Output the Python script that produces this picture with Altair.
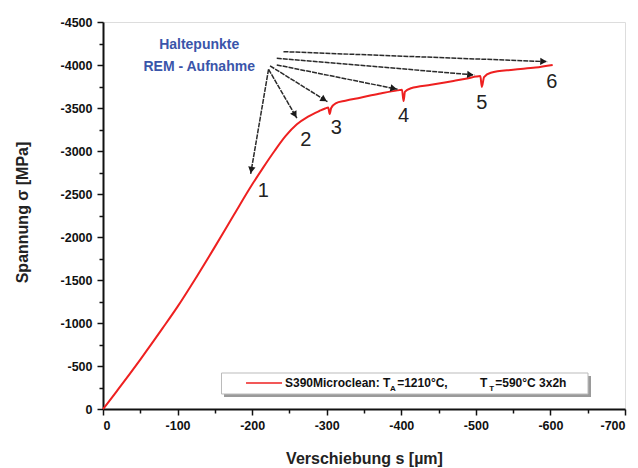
import math
import altair as alt
import pandas as pd

# ---- data ----
disp = [0, -5, -20, -50, -80, -100, -125, -150, -175, -200, -215, -230, -245, -260,
        -275, -290, -298, -302, -304, -306, -312, -325, -345, -370, -395, -401, -403,
        -405, -413, -440, -470, -490, -500, -506, -508, -511, -520, -550, -580, -603]
stress = [0, -55, -225, -575, -940, -1190, -1530, -1885, -2250, -2610, -2810, -3000,
          -3175, -3310, -3400, -3465, -3495, -3505, -3430, -3500, -3555, -3585, -3620,
          -3665, -3705, -3712, -3580, -3690, -3730, -3770, -3815, -3845, -3865, -3872,
          -3745, -3860, -3910, -3945, -3970, -4000]

labels_num = ["1", "2", "3", "4", "5", "6"]
label_s = [-215, -272, -313, -403, -508, -602]
label_sig = [-2530, -3130, -3265, -3405, -3560, -3805]

arrow_s0 = [-222, -222, -224, -233, -233, -242]
arrow_sig0 = [-3950, -3950, -3990, -4001, -4079, -4155]
arrow_s1 = [-198, -260, -301, -395, -498, -596]
arrow_sig1 = [-2733, -3381, -3574, -3718, -3884, -4039]

head_lines = ["Haltepunkte", "REM - Aufnahme"]
head_s = [-129, -129]
head_sig = [-4233, -3977]

legend_pieces = ["S390Microclean: T", "A", "=1210°C,", "T", "T", "=590°C 3x2h"]
legend_piece_s = [-244.0, -385.0, -394.5, -505.6, -518.0, -526.0]
legend_piece_sig = [-302, -229, -302, -302, -229, -302]
legend_piece_size = [12, 8, 12, 12, 8, 12]
legend_box = {"s0": -158.9, "s1": -650.4, "sig0": -418.6, "sig1": -174.4}
legend_shadow = {"s0": -162.3, "s1": -654.4, "sig0": -383.7, "sig1": -139.5}
legend_line = {"s0": -191.8, "s1": -240.1, "sig": -302.3}

W, H = 522, 387
X_DOM = [0, -700]
Y_DOM = [0, -4500]

xscale = alt.Scale(domain=X_DOM, nice=False, zero=False)
yscale = alt.Scale(domain=Y_DOM, nice=False, zero=False)

FONT = "Liberation Sans"

xaxis = alt.Axis(
    title="Verschiebung s [µm]",
    values=list(range(0, -701, -50)),
    labelExpr="datum.value % 100 === 0 ? '' + datum.value : ''",
    tickSize={"condition": {"test": "datum.value % 100 === 0", "value": 6}, "value": 4},
    labelOverlap=False, grid=False, domainColor="#111", domainWidth=2,
    tickColor="#111", tickWidth=1.5, labelFont=FONT, labelFontWeight="bold",
    labelFontSize=12.5, labelColor="#111", labelPadding=4,
    titleFont=FONT, titleFontWeight="bold", titleFontSize=16, titleColor="#222",
    titleY=49, titleBaseline="middle",
)
yaxis = alt.Axis(
    title="Spannung σ [MPa]",
    values=list(range(0, -4501, -250)),
    labelExpr="datum.value % 500 === 0 ? '' + datum.value : ''",
    tickSize={"condition": {"test": "datum.value % 500 === 0", "value": 6}, "value": 4},
    labelOverlap=False, grid=False, domainColor="#111", domainWidth=2,
    tickColor="#111", tickWidth=1.5, labelFont=FONT, labelFontWeight="bold",
    labelFontSize=12.5, labelColor="#111", labelPadding=5,
    titleFont=FONT, titleFontWeight="bold", titleFontSize=16, titleColor="#222",
    titleX=-81, titleY=190, titleAngle=270, titleBaseline="middle", titleAlign="center",
)


def X(field):
    return alt.X(field, type="quantitative", scale=xscale, axis=xaxis)


def Y(field):
    return alt.Y(field, type="quantitative", scale=yscale, axis=yaxis)


curve_df = pd.DataFrame({"s": disp, "sigma": stress, "order": range(len(disp))})
curve = alt.Chart(curve_df).mark_line(color="#ee2020", strokeWidth=2,
                                      interpolate="monotone").encode(
    x=X("s"), y=Y("sigma"), order="order:Q")

# arrows
rows = []
for a, b, c, d in zip(arrow_s0, arrow_sig0, arrow_s1, arrow_sig1):
    dx = -(c - a) * W / 700
    dy = (d - b) * H / 4500
    ang = math.degrees(math.atan2(dx, -dy)) % 360
    L = math.hypot(dx, dy)
    back = 4.0
    hx = c + (dx / L) * back * 700 / W
    hy = d - (dy / L) * back * 4500 / H
    rows.append({"s": a, "sigma": b, "s1": c, "sigma1": d, "hs": hx, "hsig": hy, "ang": ang})
arr_df = pd.DataFrame(rows)
arrows = alt.Chart(arr_df).mark_rule(color="#2a2a2a", strokeWidth=1.5, strokeDash=[5, 1]).encode(
    x=X("s"), y=Y("sigma"), x2="s1", y2="sigma1")
heads = alt.Chart(arr_df).mark_point(shape="triangle-up", filled=True, color="#1a1a1a",
                                     size=55, opacity=1).encode(
    x=X("hs"), y=Y("hsig"), angle=alt.Angle("ang:Q", scale=None))

num_df = pd.DataFrame({"s": label_s, "sigma": label_sig, "t": labels_num})
nums = alt.Chart(num_df).mark_text(font=FONT, fontSize=20, color="#222",
                                   baseline="middle", align="center").encode(
    x=X("s"), y=Y("sigma"), text="t")

head_df = pd.DataFrame({"s": head_s, "sigma": head_sig, "t": head_lines})
head = alt.Chart(head_df).mark_text(font=FONT, fontSize=14, fontWeight="bold",
                                    color="#3a55aa", baseline="middle", align="center").encode(
    x=X("s"), y=Y("sigma"), text="t")

shadow = alt.Chart(pd.DataFrame([legend_shadow])).mark_rect(color="#9a9a9a").encode(
    x=X("s0"), x2="s1", y=Y("sig0"), y2="sig1")
box = alt.Chart(pd.DataFrame([legend_box])).mark_rect(
    fill="white", stroke="#bbbbbb", strokeWidth=1).encode(
    x=X("s0"), x2="s1", y=Y("sig0"), y2="sig1")
lline = alt.Chart(pd.DataFrame([legend_line])).mark_rule(color="#ee2020", strokeWidth=1.5).encode(
    x=X("s0"), x2="s1", y=Y("sig"))
leg_df = pd.DataFrame({"s": legend_piece_s, "sigma": legend_piece_sig,
                       "t": legend_pieces, "fs": legend_piece_size})
ltext = alt.Chart(leg_df).mark_text(font=FONT, fontWeight="bold", color="#111",
                                    baseline="middle", align="left").encode(
    x=X("s"), y=Y("sigma"), text="t", size=alt.Size("fs:Q", scale=None, legend=None))

chart = alt.layer(shadow, box, lline, ltext, curve, arrows, heads, nums, head).properties(
    width=W, height=H,
    autosize=alt.AutoSizeParams(type="none"),
    padding={"left": 103, "top": 22, "right": 13, "bottom": 59},
).configure_view(stroke="#222", strokeWidth=1.5).configure(background="white")

chart.save("out.html", embed_options={"renderer": "svg", "actions": False})
